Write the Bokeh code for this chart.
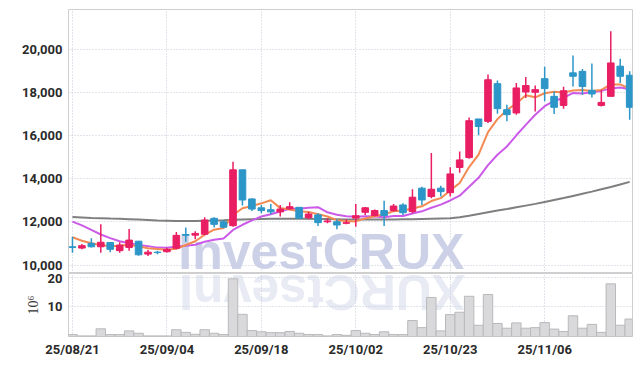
import math
from bokeh.plotting import figure
from bokeh.models import Range1d, FixedTicker, NumeralTickFormatter, Label, ColumnDataSource
from bokeh.layouts import column
from bokeh.embed import file_html
from bokeh.resources import INLINE

dates = ["25/08/21", "25/08/22", "25/08/25", "25/08/26", "25/08/27", "25/08/28", "25/08/29",
         "25/09/01", "25/09/02", "25/09/03", "25/09/04", "25/09/05", "25/09/08", "25/09/09",
         "25/09/10", "25/09/11", "25/09/12", "25/09/15", "25/09/16", "25/09/17", "25/09/18",
         "25/09/19", "25/09/22", "25/09/23", "25/09/24", "25/09/25", "25/09/26", "25/09/29",
         "25/09/30", "25/10/01", "25/10/02", "25/10/10", "25/10/13", "25/10/14", "25/10/15",
         "25/10/16", "25/10/17", "25/10/20", "25/10/21", "25/10/22", "25/10/23", "25/10/24",
         "25/10/27", "25/10/28", "25/10/29", "25/10/30", "25/10/31", "25/11/03", "25/11/04",
         "25/11/05", "25/11/06", "25/11/07", "25/11/10", "25/11/11", "25/11/12", "25/11/13",
         "25/11/14", "25/11/17", "25/11/18", "25/11/19"]

opens = [10850, 10790, 11010, 10850, 11050, 10670, 10820, 11110, 10510, 10600,
         10620, 10780, 11420, 11390, 11430, 12170, 12010, 11830, 14420, 13070,
         12660, 12570, 12470, 12610, 12680, 12200, 12330, 12010, 12010, 11940,
         12180, 12450, 12300, 12530, 12530, 12790, 12480, 13570, 13180, 13570,
         13360, 14530, 14990, 16780, 16670, 18420, 17210, 17060, 18030, 18020,
         18650, 17830, 17410, 18920, 18990, 18110, 17410, 17830, 19230, 18810]
closes = [10820, 10900, 10850, 11060, 10730, 10930, 11160, 10480, 10600, 10580,
          10730, 11380, 11380, 11470, 12090, 11890, 11760, 14420, 13020, 12600,
          12530, 12470, 12600, 12710, 12170, 12370, 11970, 12050, 11860, 11970,
          12290, 12660, 12530, 12300, 12740, 12430, 13150, 13020, 13520, 13410,
          14230, 14880, 16700, 16430, 18600, 17260, 16980, 18220, 18330, 18140,
          18190, 17320, 18090, 18760, 18290, 17940, 17550, 19380, 18760, 17320]
highs = [11320, 10980, 11240, 11900, 11060, 11060, 11680, 11120, 10700, 10670,
         10810, 11530, 11750, 11570, 12220, 12220, 12090, 14790, 14420, 13100,
         12790, 12840, 12790, 12920, 12700, 12480, 12400, 12170, 12130, 12130,
         12840, 12700, 12580, 12990, 12840, 12870, 13520, 13640, 15200, 13680,
         14540, 15270, 16850, 16780, 18840, 18570, 17440, 18450, 18730, 18330,
         19200, 18060, 18270, 19720, 19100, 19350, 18140, 20850, 19580, 18990]
lows = [10570, 10740, 10820, 10570, 10600, 10570, 10670, 10430, 10420, 10500,
        10590, 10730, 11080, 11200, 11380, 11750, 11710, 11780, 12760, 12510,
        12400, 12360, 12250, 12560, 12170, 12130, 11810, 11940, 11660, 11900,
        11780, 12330, 12250, 11810, 12480, 12330, 12400, 12790, 13100, 13180,
        13180, 14290, 14930, 16030, 16590, 17020, 16670, 16980, 17750, 17130,
        17600, 17010, 17260, 18290, 17910, 17780, 17360, 17830, 18450, 16740]
volume_m = [0.65, 0.2, 0.2, 2.6, 0.65, 0.65, 1.9, 1.1, 0.2, 0.2,
            0.2, 2.3, 1.4, 0.75, 2.3, 1.1, 0.65, 19.5, 7.5, 2.0,
            1.6, 1.3, 1.3, 1.7, 1.1, 0.65, 0.65, 0.2, 0.65, 0.4,
            2.0, 1.1, 0.65, 1.6, 0.65, 0.65, 5.4, 3.0, 13.2, 1.9,
            7.4, 8.2, 13.6, 3.8, 14.2, 4.4, 2.8, 4.6, 2.8, 3.0,
            4.7, 2.5, 1.7, 7.0, 2.8, 4.1, 1.4, 17.8, 3.8, 5.9]
ma5 = [11290, 11130, 11010, 10930, 10872, 10894, 10946, 10872, 10780, 10750,
       10710, 10754, 10934, 11108, 11410, 11642, 11718, 12326, 12636, 12738,
       12866, 13008, 12644, 12582, 12496, 12464, 12364, 12254, 12084, 12044,
       12028, 12166, 12262, 12350, 12504, 12532, 12630, 12728, 12972, 13106,
       13466, 13812, 14548, 15130, 16168, 16774, 17194, 17498, 17878, 17786,
       17972, 18040, 18014, 18100, 18130, 18080, 18126, 18384, 18384, 18190]
ma10 = [12016, 11840, 11630, 11420, 11250, 11110, 11010, 10930, 10880, 10811,
        10802, 10850, 10903, 10944, 11080, 11176, 11236, 11630, 11872, 12074,
        12254, 12363, 12485, 12609, 12617, 12665, 12686, 12449, 12333, 12270,
        12246, 12265, 12258, 12217, 12274, 12280, 12398, 12495, 12661, 12805,
        12999, 13221, 13638, 14051, 14637, 15120, 15503, 16023, 16504, 16977,
        17373, 17617, 17756, 17989, 17958, 18026, 18083, 18199, 18242, 18160]
ma60 = [12230, 12210, 12190, 12175, 12160, 12150, 12130, 12110, 12090, 12070,
        12060, 12050, 12050, 12050, 12060, 12070, 12080, 12100, 12120, 12130,
        12140, 12150, 12150, 12150, 12150, 12150, 12140, 12140, 12130, 12120,
        12120, 12120, 12120, 12120, 12120, 12130, 12130, 12140, 12150, 12160,
        12170, 12220, 12290, 12370, 12450, 12530, 12600, 12680, 12760, 12840,
        12930, 13020, 13110, 13210, 13310, 13410, 13520, 13620, 13740, 13860]

UP = "#e91e63"
DOWN = "#2d96c8"
FONT = "Roboto"
GRID = "#c4c8d8"

idx = list(range(len(dates)))
colors = [UP if c >= o else DOWN for o, c in zip(opens, closes)]
src = ColumnDataSource(dict(
    x=idx, open=opens, close=closes, high=highs, low=lows,
    top=[max(o, c) for o, c in zip(opens, closes)],
    bottom=[min(o, c) for o, c in zip(opens, closes)],
    color=colors, vol=volume_m, ma5=ma5, ma10=ma10, ma60=ma60))

tick_idx = [0, 10, 20, 30, 40, 50]
xr = Range1d(-0.42, 59.3)

p = figure(width=636, height=273, x_range=xr, y_range=Range1d(9610, 21860),
           output_backend="svg", toolbar_location=None,
           min_border_left=68, min_border_right=4, min_border_top=9, min_border_bottom=0)
v = figure(width=636, height=86, x_range=xr, y_range=Range1d(0, 21.3),
           output_backend="svg", toolbar_location=None,
           min_border_left=68, min_border_right=4, min_border_top=0, min_border_bottom=5)

for f in (p, v):
    f.outline_line_color = "#cfcfcf"
    f.outline_line_width = 1
    f.background_fill_color = "white"
    f.border_fill_color = "white"
    f.xgrid.ticker = FixedTicker(ticks=tick_idx)
    f.xaxis.ticker = FixedTicker(ticks=tick_idx)
    for g in (f.xgrid, f.ygrid):
        g.grid_line_color = GRID
        g.grid_line_dash = "1 2"
        g.grid_line_width = 1
    for ax in (f.xaxis, f.yaxis):
        ax.axis_line_color = None
        ax.major_tick_line_color = None
        ax.minor_tick_line_color = None
        ax.major_tick_out = 0
        ax.major_tick_in = 0
        ax.minor_tick_out = 0
        ax.major_label_text_font = FONT
        ax.major_label_text_font_style = "bold"
        ax.major_label_text_font_size = "13px"
        ax.major_label_text_color = "#2a2a2a"
    f.yaxis.major_label_standoff = 6

p.xaxis.visible = False
p.yaxis.ticker = FixedTicker(ticks=[10000, 12000, 14000, 16000, 18000, 20000])
p.yaxis.formatter = NumeralTickFormatter(format="0,0")

v.yaxis.ticker = FixedTicker(ticks=[10, 20])
v.xaxis.major_label_overrides = {i: dates[i] for i in tick_idx}
v.xaxis.major_label_standoff = 5
v.yaxis.axis_label = "10\u2076"
v.yaxis.axis_label_text_font = "Liberation Serif"
v.yaxis.axis_label_text_font_style = "normal"
v.yaxis.axis_label_text_font_size = "14px"
v.yaxis.axis_label_text_color = "#333333"
v.yaxis.axis_label_standoff = 4

# watermark and its reflection
p.add_layout(Label(x=11.2, y=10618, text="InvestCRUX", text_font="Liberation Sans",
                   text_font_style="bold", text_font_size="50px", text_color="#c6cce4",
                   text_align="left", text_baseline="alphabetic",
                   text_alpha=0.9, level="underlay"))
v.add_layout(Label(x=41.6, y=14.9, text="XURCtsevnI", angle=math.pi, text_font="Liberation Sans",
                   text_font_style="bold", text_font_size="50px", text_color="#c6cce4",
                   text_align="left", text_baseline="alphabetic",
                   text_alpha=0.4, level="underlay"))

# moving averages
p.line("x", "ma60", source=src, line_color="#7f7f7f", line_width=2)
p.line("x", "ma10", source=src, line_color="#cc5ae8", line_width=2)
p.line("x", "ma5", source=src, line_color="#f28a52", line_width=2)

# candles
p.segment("x", "high", "x", "low", source=src, line_color="color", line_width=1.5)
p.vbar("x", width=0.7, top="top", bottom="bottom", source=src,
       fill_color="color", line_color="color", line_width=1)

# volume
v.vbar("x", width=1.0, top="vol", bottom=0, source=src,
       fill_color="#d9d9db", line_color="#b9b9bb", line_width=1)

layout = column(p, v)
open("out.html", "w").write(file_html(layout, INLINE))
